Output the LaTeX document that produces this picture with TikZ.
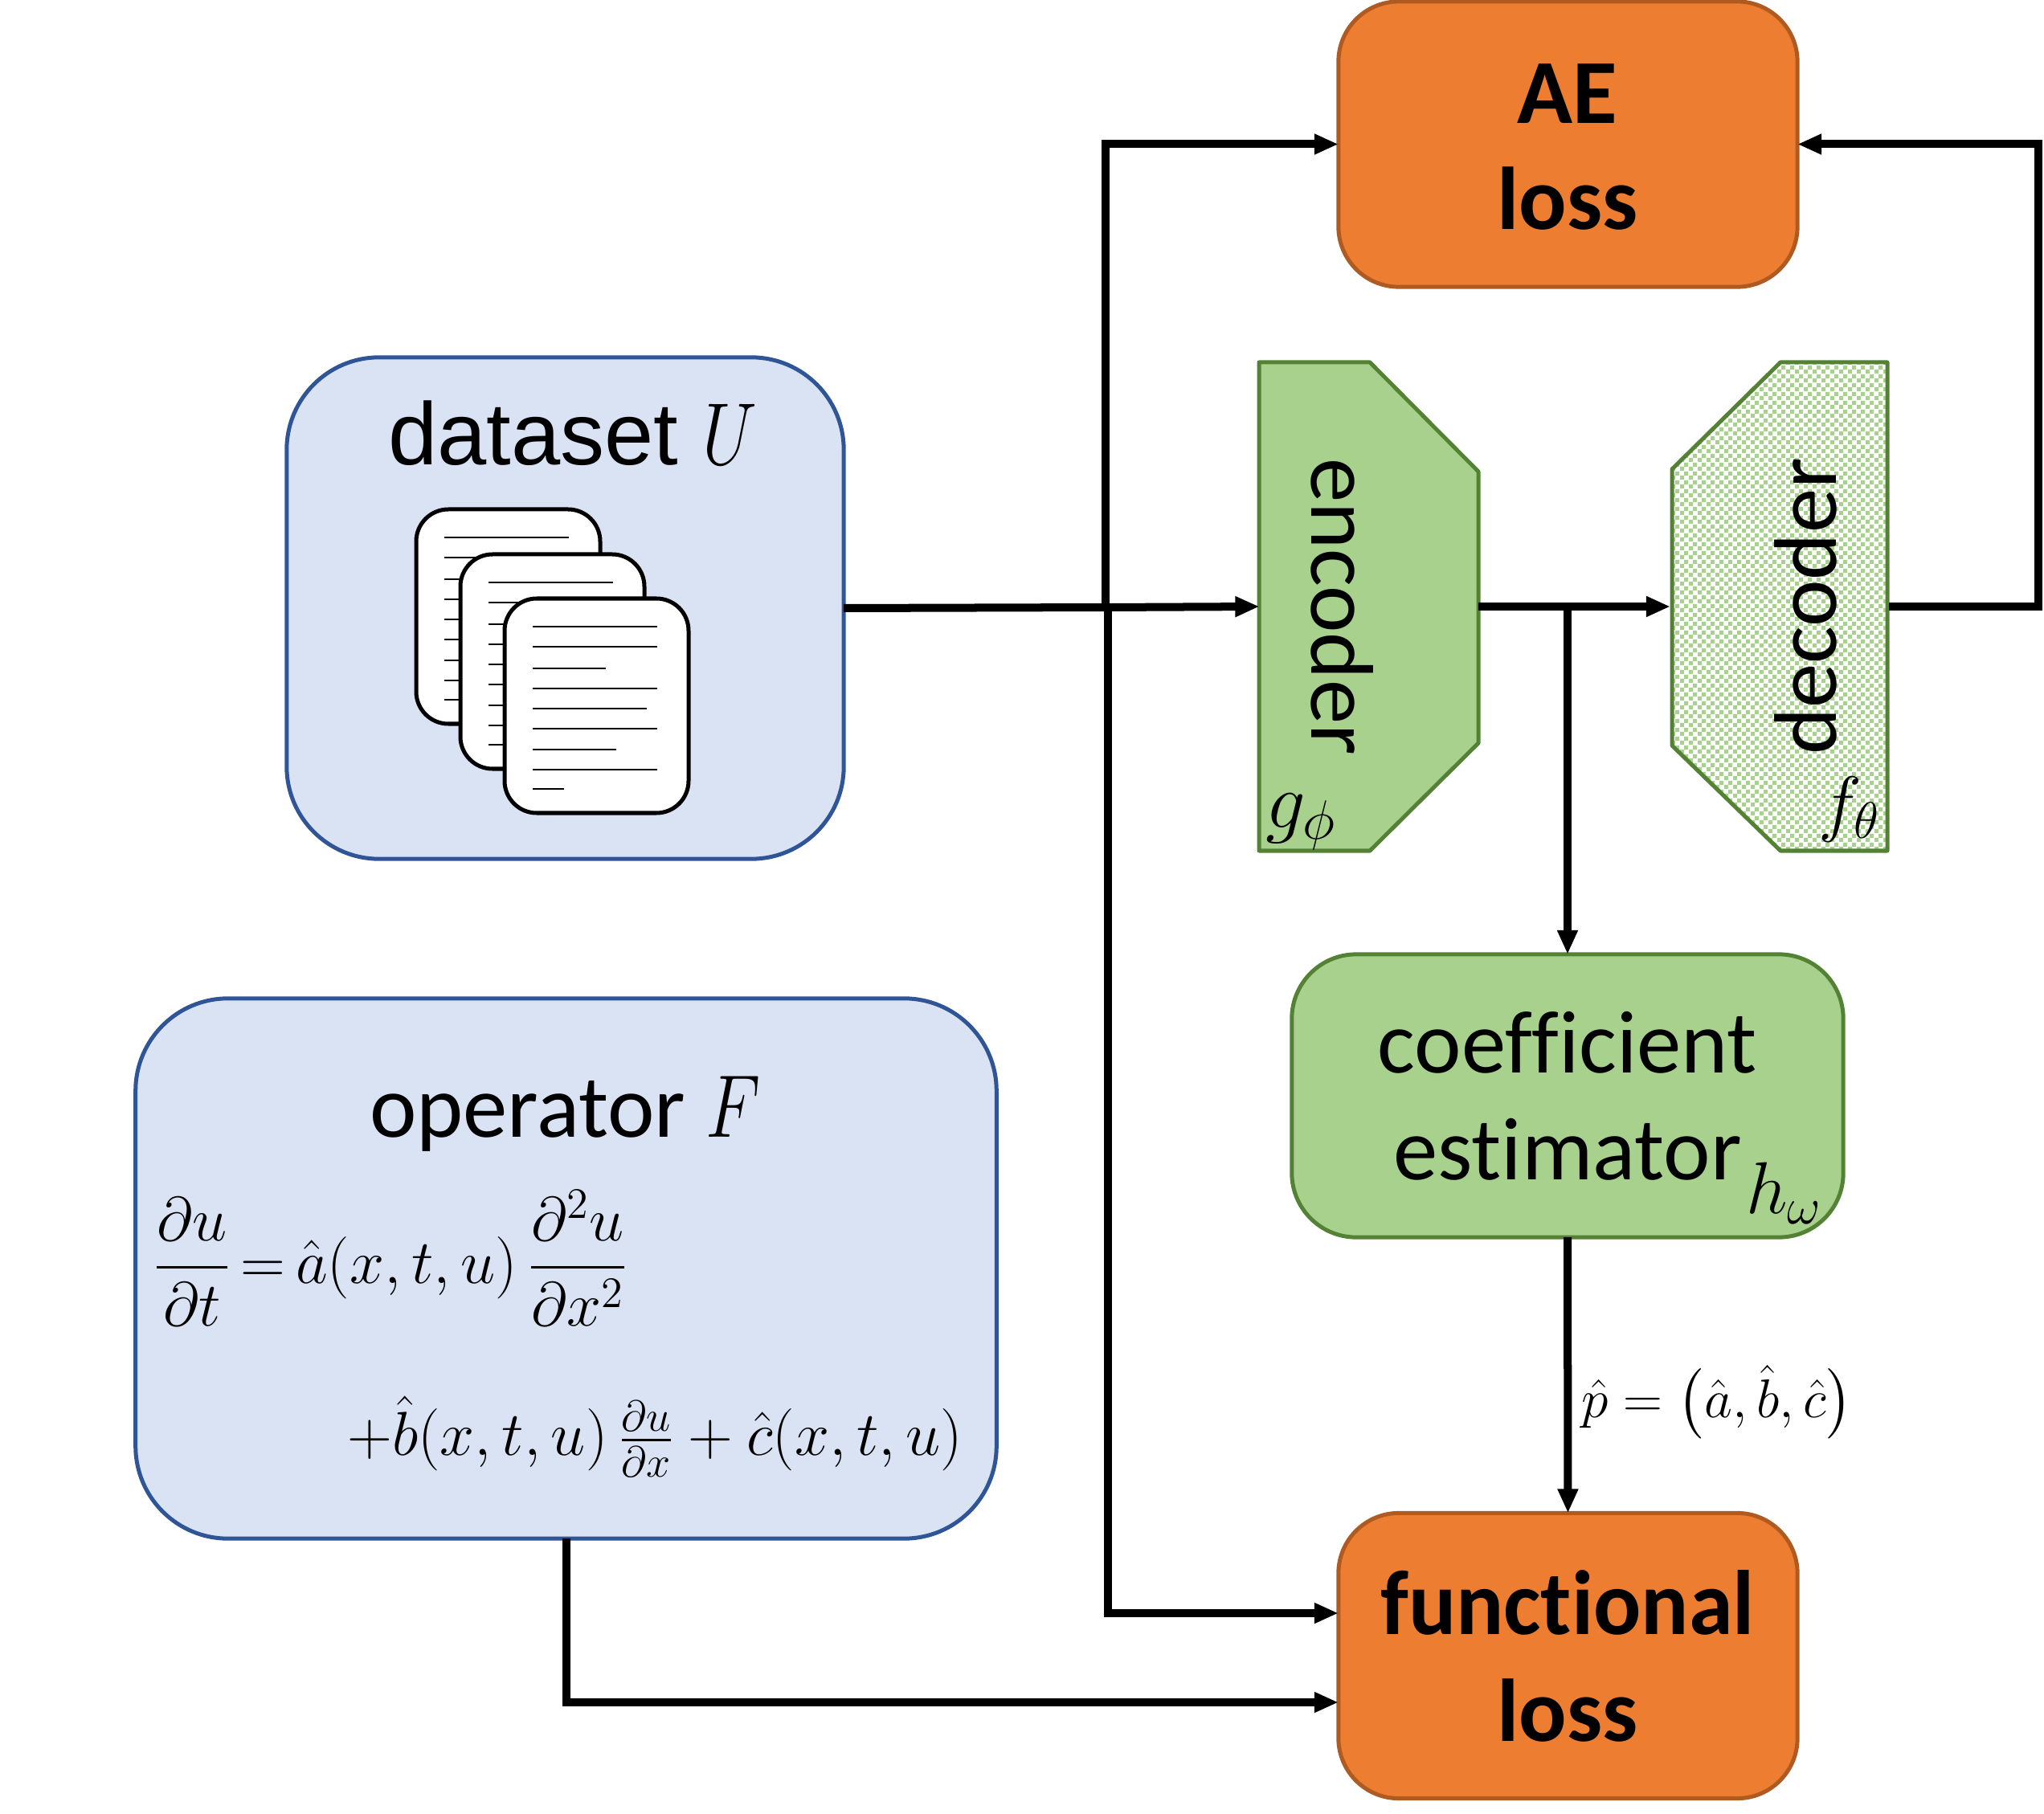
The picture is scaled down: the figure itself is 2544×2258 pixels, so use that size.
\documentclass[tikz,border=0pt]{standalone}
\usepackage{fix-cm}
\usepackage{amsmath}
\usepackage{graphicx}
\usepackage{fontspec}
\setmainfont[Ligatures=NoCommon]{Carlito}
\newfontfamily\arialfont{Liberation Sans}
\usetikzlibrary{arrows.meta,patterns,calc}
\definecolor{orangefill}{HTML}{ED7D31}
\definecolor{orangeline}{HTML}{AE5A21}
\definecolor{bluefill}{HTML}{DAE3F3}
\definecolor{blueline}{HTML}{2F5597}
\definecolor{greenfill}{HTML}{A9D18E}
\definecolor{greenline}{HTML}{548235}
\pgfdeclarepatternformonly{chk}{\pgfqpoint{0pt}{0pt}}{\pgfqpoint{3.1298pt}{3.1298pt}}{\pgfqpoint{3.1298pt}{3.1298pt}}{%
\pgfpathrectangle{\pgfqpoint{0pt}{0pt}}{\pgfqpoint{1.5649pt}{1.5649pt}}%
\pgfpathrectangle{\pgfqpoint{1.5649pt}{1.5649pt}}{\pgfqpoint{1.5649pt}{1.5649pt}}%
\pgfusepath{fill}}
\tikzset{
  every node/.style={inner sep=0pt,outer sep=0pt},
  txt/.style={font=\fontsize{31.5}{37.8}\selectfont,align=center,text=black},
  lossbox/.style={draw=orangeline,fill=orangefill,line width=0.05cm,rounded corners=0.75cm,minimum width=5.71cm,minimum height=3.55cm},
  inbox/.style={draw=blueline,fill=bluefill,line width=0.05cm,rounded corners=1.15cm},
  estbox/.style={draw=greenline,fill=greenfill,line width=0.05cm,rounded corners=0.8cm,minimum width=6.86cm,minimum height=3.52cm},
  ghost/.style={minimum width=2.72cm,minimum height=6.08cm},
  coder/.style={draw=greenline,line width=0.05cm,line join=round},
  conn/.style={draw=black,line width=0.10cm,-{Triangle[length=0.30cm,width=0.24cm]}},
  plainconn/.style={draw=black,line width=0.10cm},
  pagebox/.style={draw=black,fill=white,line width=0.05cm,rounded corners=0.4cm},
  pageline/.style={draw=black,line width=0.025cm},
  docpage/.pic={
    \path[pagebox] (0,0) rectangle (229,267);
    \foreach \yy/\xx in {35/190,60/190,87/126,112/190,137/177,162/190,188/139,213/190,237/74}
      \path[pageline] (35,\yy) -- (\xx,\yy);
  }
}
\begin{document}
\begin{tikzpicture}[x=0.01cm,y=-0.01cm]
\useasboundingbox (0,0) rectangle (2544,2258);
% boxes
\node[lossbox] (ae) at (1951.5,179.5) {};
\node[lossbox] (func) at (1951.5,2061) {};
\node[estbox] (est) at (1951,1364) {};
\node[inbox,minimum width=6.93cm,minimum height=6.24cm] (data) at (703.5,757) {};
\node[inbox,minimum width=10.71cm,minimum height=6.72cm] (oper) at (704.5,1579) {};
% encoder and decoder
\node[ghost] (enc) at (1703.5,755) {};
\node[ghost] (dec) at (2215,755) {};
\path[coder,fill=greenfill] (1567,451) -- (1705,451) -- (1840,587) -- (1840,925) -- (1705,1059) -- (1567,1059) -- cycle;
\path[fill=white] (2349,451) -- (2216,451) -- (2081,584) -- (2081,928) -- (2216,1059) -- (2349,1059) -- cycle;
\path[pattern=chk,pattern color=greenfill] (2349,451) -- (2216,451) -- (2081,584) -- (2081,928) -- (2216,1059) -- (2349,1059) -- cycle;
\path[coder] (2349,451) -- (2216,451) -- (2081,584) -- (2081,928) -- (2216,1059) -- (2349,1059) -- cycle;
% pages
\pic at (518,634) {docpage};
\pic at (573,690) {docpage};
\pic at (628,745) {docpage};
% texts
\node[font=\arialfont\fontsize{31.3}{40}\selectfont,anchor=base west] (datat) at (483,579) {dataset \scalebox{0.8}[1]{$U$}};
\node[txt,anchor=base west] (opert) at (460,1415) {operator \scalebox{0.8}[1]{$F$}};
\node[txt] (aet) at (1951,183) {\fontsize{32.4}{37.8}\selectfont\bfseries AE\\\bfseries loss};
\node[txt] (funct) at (1951,2061) {\fontsize{32.4}{37.8}\selectfont\bfseries\scalebox{0.97}[1]{functional}\\\bfseries loss};
\node[txt] (estt) at (1951,1364) {coefficient\\estimator};
\node[txt,rotate=-90,anchor=center] (enct) at (1671,755) {encoder};
\node[txt,rotate=90,anchor=center] (dect) at (2247,755) {decoder};
\node[font=\fontsize{28}{32}\selectfont,anchor=base west] (gphi) at (1575,1030) {$g_\phi$};
\node[font=\fontsize{26}{32}\selectfont,anchor=base east] (ftheta) at (2340,1030) {$f_\theta$};
\node[font=\fontsize{26}{32}\selectfont,anchor=base east] (homega) at (2268,1510) {$h_\omega$};
\node[font=\fontsize{22}{28}\selectfont,anchor=west] (eqa) at (191,1566) {\thickmuskip=3mu $\dfrac{\partial u}{\partial t}=\hat a(x,t,u)\,\dfrac{\partial^2 u}{\partial x^2}$};
\node[font=\fontsize{22}{28}\selectfont,anchor=east] (eqb) at (1198,1788) {$+\hat b(x,t,u)\,\frac{\partial u}{\partial x}+\hat c(x,t,u)$};
\node[font=\fontsize{19.3}{24}\selectfont,anchor=west] (plabel) at (1968,1745) {$\hat p=\bigl(\hat a,\hat b,\hat c\bigr)$};
% connectors
\coordinate (jt) at (1376,756);
\coordinate (jb) at (1379,756);
\coordinate (fa) at ($(func.west)+(0,-53)$);
\coordinate (fb) at ($(func.west)+(0,58)$);
\coordinate (rt) at (2537,755);
\coordinate (jc) at (1951,755);
\draw[plainconn] (data.east) -- (jb);
\draw[conn] (jb) -- (enc.west);
\draw[conn] (jt) |- (ae.west);
\draw[conn] (jb) |- (fa);
\draw[conn] (oper.south) |- (fb);
\draw[conn] (enc.east) -- (dec.west);
\draw[conn] (jc) -- (est.north);
\draw[conn] (est.south) -- (func.north);
\draw[conn] (dec.east) -- (rt) |- (ae.east);
\end{tikzpicture}
\end{document}
